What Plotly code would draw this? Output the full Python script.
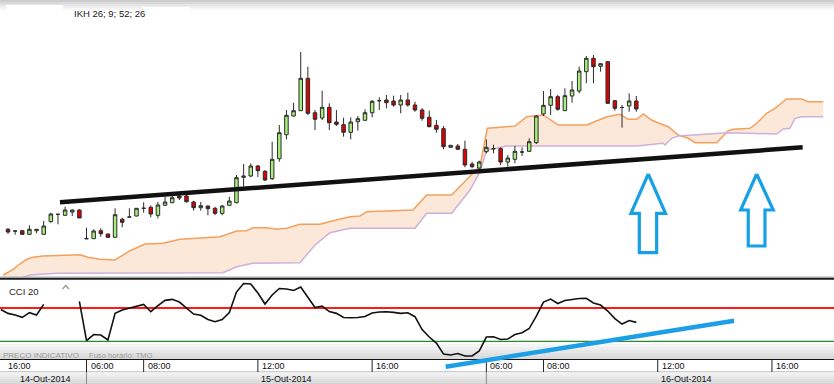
import plotly.graph_objects as go

W, H = 834, 384

# ---------------- data ----------------
candle_idx = list(range(89))
opens = [50.7, 49, 49.3, 45.7, 49.3, 45.7, 58.3, 65.7, 64.7, 68, 70,
         41.3, 41.3, 49.3, 46, 42.7, 60.7, 63, 64, 71.7, 72.7, 64.7,
         74.7, 77.3, 84, 84, 78, 72.3, 74, 71.7, 66.7, 74.7, 77.3,
         102.7, 104, 114, 108.7, 101.3, 121.3, 145.3, 164, 169.3, 201.7,
         167.3, 162, 172.7, 158, 155.3, 147.7, 158.3, 159.7, 167.3, 179.3,
         180, 179, 175, 180, 175, 170, 162.7, 154.7, 151.3, 132.7, 134,
         130.7, 116, 112, 128.3, 131.3, 131.3, 118, 120.7, 128, 128.7,
         137.3, 166, 174.7, 183.3, 169.3, 184, 189, 208.3, 221.7, 213.7,
         218.3, 179.3, 172.5, 174, 179]
highs = [52, 49.2, 50, 54.7, 51, 59, 67.3, 66, 73.3, 70.5, 70.7,
         52.3, 50.7, 51.7, 46.3, 71.7, 62.3, 71.7, 72, 77.7, 74.7, 78,
         83.3, 84, 86, 85, 79.3, 78, 74.5, 73.3, 75, 83.3, 105,
         116, 116.7, 115, 110, 138.3, 155, 170, 177.3, 228, 213.3,
         170, 189.3, 176.7, 170, 162.3, 162.7, 164, 170.7, 180, 182.7,
         185, 184.3, 185, 187.3, 178.3, 171.7, 169.3, 160, 154, 135, 136,
         139.3, 118.3, 119.3, 140.7, 135.3, 132.7, 125, 134, 132.7, 141.7,
         165, 189, 191, 185, 191.7, 199, 213.3, 224, 225, 216.7,
         219, 180, 175, 186.7, 184]
lows = [46, 45.3, 45.3, 45.3, 46.7, 45.5, 57.3, 55.7, 64.3, 64, 62,
        41, 41, 43.3, 42.5, 42.5, 52.7, 62.7, 63.7, 67.3, 62.7, 61.7,
        74.5, 77, 80, 77.3, 69.3, 69.3, 64.7, 65, 64.7, 74.5, 76.7,
        93.3, 102.7, 103, 99, 100, 118.3, 140.7, 163.3, 169, 165,
        150, 160, 150, 154, 143.3, 140.7, 149.3, 159.5, 162.7, 170,
        171.7, 173.3, 166.7, 173.3, 168.3, 159.3, 152.7, 147.3, 130.7, 132.5, 130,
        112.7, 111.7, 110.7, 126.7, 126.7, 115, 113.3, 116.7, 124, 128,
        136, 164, 165, 169.3, 169.3, 177.3, 186.7, 196.7, 196.7, 208.3,
        176, 169.3, 152.3, 168.3, 168.3]
closes = [48, 49, 45.7, 50.7, 50.7, 54, 66, 65.7, 70, 70, 62,
          41.3, 49, 46.3, 42.7, 65.3, 57.7, 63, 71.7, 71.7, 66, 75,
          78, 82.3, 82, 78.3, 72.3, 74.3, 71.3, 66.7, 74, 79, 102.3,
          104, 114, 109.3, 100, 120.7, 147.3, 164.7, 169.3, 201.7, 166.7,
          160.7, 172.7, 157.3, 155.7, 147.7, 158, 161.3, 167.3, 178.7, 179.3,
          177.3, 175, 180, 175, 170, 161.7, 153.3, 150.7, 133.3, 134.7, 130.7,
          115, 113.3, 118, 132.7, 131.3, 118, 122, 128.7, 128, 138.3,
          164, 174.7, 183.3, 170.7, 184.3, 190, 209, 221.7, 213.3, 216.3,
          176.7, 171.7, 172.5, 179, 171]

# Ichimoku cloud (senkou span A = orange, span B = lavender), shifted forward
span_a_x = [-0.66, 0.74, 1.44, 2.62, 3.5, 4.9, 10.08, 11.2, 12.89, 14.99, 17.09,
            19.19, 21.71, 24.09, 26.43, 29.69, 32.03, 33.43, 34.31, 36.23, 37.63,
            39.03, 40.9, 43.7, 45.52, 47.9, 49.3, 50.24, 56.72, 58.64, 62.14,
            64.71, 66.11, 67.13, 71.01, 72.65, 74.97, 77.07, 81.05, 83.85, 85.71,
            86.88, 88.05, 88.98, 90.15, 90.85, 92.48, 93.88, 95.28, 96.22, 99.26,
            100.88, 101.58, 103.92, 104.86, 106.26, 107.42, 109.06, 111.16, 112.09, 114.19]
span_a_y = [5, 10.7, 15, 20.7, 22.7, 24, 25.3, 22.7, 20.7, 20, 29.3,
            36, 36.7, 40.7, 41.7, 43.3, 49, 49.3, 52.3, 52.3, 50.7,
            51.7, 55.7, 55.7, 59.3, 63.3, 64, 68.3, 70, 85, 85,
            103.3, 114, 151.7, 154, 163.3, 165, 155, 155, 163.3, 165.7,
            160.7, 160.7, 166, 160, 157.7, 153.3, 145, 141.7, 137.3, 137.3,
            149.3, 150.7, 151.7, 156.7, 166.7, 171.7, 181, 181, 178.3, 178.3]
span_b_x = [-0.66, 2.38, 3.08, 6.82, 18.91, 30.11, 32.03, 34.31, 40.9, 43.0,
            45.1, 47.9, 57.0, 58.64, 62.14, 64.71, 66.11, 67.04, 68.45, 69.85,
            88.05, 91.74, 92.02, 92.96, 93.88, 99.02, 100.66, 107.66, 108.58,
            109.52, 110.22, 111.16, 114.19]
span_b_y = [-4, 2.7, 5, 6.7, 7.3, 7.3, 13.3, 16.7, 17.3, 35,
            47.3, 51.7, 51.7, 66.7, 66.7, 90, 108.3, 130, 131.7, 134,
            134, 136.7, 135, 141.7, 144, 146, 147.3, 146, 151,
            151.7, 161.7, 163.3, 163.3]

# CCI(20)
cci_idx = list(range(-1, 89))
cci_vals = [91, 68, 58, 44, 72, 58, 122, None, None, None, None, 140,
            -96, -59, -62, -92, 68, 88, 100, 109, 122, 78, 115, 146, 152,
            136, 100, 64, 57, 31, 18, 31, 73, 196, 247, 244, 190, 124, 178,
            217, 214, 205, 226, 166, 103, 112, 79, 68, 43, 42, 43, 49, 70,
            76, 78, 74, 68, 72, 48, -29, -74, -110, -176, -182, -173, -188,
            -188, -158, -74, -72, -89, -86, -59, -48, -23, 52, 136, 154, 127,
            145, 151, 157, 158, 130, 118, 82, 37, 4, 25, 14]
cci_levels = [100, -100]

# user drawings
trend_price_x = [7.28, 111.3]
trend_price_y = [77.7, 132.7]
trend_cci_x = [61.3, 101.7]
trend_cci_y = [-252, 24]
arrow1_x = [89.68, 92.09, 90.85, 90.85, 88.42, 88.42, 87.25, 89.68]
arrow1_y = [106, 66.7, 66.7, 27.3, 27.3, 66.7, 66.7, 106]
arrow2_x = [104.86, 107.18, 106.02, 106.02, 103.68, 103.68, 102.62, 104.86]
arrow2_y = [106, 70, 70, 34, 34, 70, 70, 106]

# time axis
tick_idx = [11, 19, 35, 51, 67, 75, 91, 107]
tick_text = ["06:00", "08:00", "12:00", "16:00", "06:00", "08:00", "12:00", "16:00"]
first_tick_text = "16:00"
day_bounds = [11, 67]
day_text = ["14-Out-2014", "15-Out-2014", "16-Out-2014"]
day_center_idx = [None, 39, 95]

assert len(cci_vals) == len(cci_idx)

# ---------------- figure ----------------
FONT = "Liberation Sans"
PRICE_RANGE = [2, 280]
fig = go.Figure()

# cloud on base price axis (drawn underneath)
fig.add_trace(go.Scatter(x=span_a_x, y=span_a_y, mode="lines", yaxis="y",
                         line=dict(color="#f4a05c", width=1.5), hoverinfo="skip"))
fig.add_trace(go.Scatter(x=span_b_x, y=span_b_y, mode="lines", fill="tonexty", yaxis="y",
                         fillcolor="rgba(251,226,206,0.8)",
                         line=dict(color="#cdb0dc", width=1.5), hoverinfo="skip"))

# candles + drawings on overlaying price axis (drawn on top of the cloud)
fig.add_trace(go.Candlestick(
    x=candle_idx, open=opens, high=highs, low=lows, close=closes, yaxis="y3",
    increasing=dict(fillcolor="#a8ee7c", line=dict(color="#2b2b2b", width=1)),
    decreasing=dict(fillcolor="#e00000", line=dict(color="#2b2b2b", width=1)),
    whiskerwidth=0, hoverinfo="skip"))

fig.add_trace(go.Scatter(x=trend_price_x, y=trend_price_y, mode="lines", yaxis="y3",
                         line=dict(color="#111111", width=4.5), hoverinfo="skip"))
for ax_, ay_ in ((arrow1_x, arrow1_y), (arrow2_x, arrow2_y)):
    fig.add_trace(go.Scatter(x=ax_, y=ay_, mode="lines", yaxis="y3",
                             line=dict(color="#16a0e6", width=3.2), hoverinfo="skip"))

# CCI panel
fig.add_trace(go.Scatter(x=cci_idx, y=cci_vals, mode="lines", yaxis="y2",
                         line=dict(color="#111111", width=1.6), connectgaps=False,
                         hoverinfo="skip"))
fig.add_trace(go.Scatter(x=trend_cci_x, y=trend_cci_y, mode="lines", yaxis="y2",
                         line=dict(color="#1c9fe6", width=4.5), hoverinfo="skip"))


def px_x(x):
    return x / W


def px_y(y):
    return 1 - y / H


def prect(x0, y0, x1, y1, color, layer="below"):
    return dict(type="rect", xref="paper", yref="paper",
                x0=px_x(x0), x1=px_x(x1), y0=px_y(y1), y1=px_y(y0),
                fillcolor=color, line=dict(width=0), layer=layer)


shapes = []
# top header gradient
for i, c in enumerate(["#cdcdcd", "#d9d9d9", "#e5e5e5", "#efefef", "#f7f7f7"]):
    shapes.append(prect(0, 2 * i, W, 2 * i + 2, c))
shapes.append(prect(6, 5, 63, 11, "#ffffff"))
shapes.append(prect(143, 7, 190, 12, "#ffffff"))
# main / cci separator
shapes.append(prect(0, 276.5, W, 278, "#a8a8a8", "above"))
shapes.append(prect(0, 278, W, 279.8, "#1c1c1c", "above"))
# cci bottom gradient
grad = ["#fbfbfb", "#f5f5f5", "#eeeeee", "#e7e7e7", "#e0e0e0", "#dadada"]
for i, c in enumerate(grad):
    shapes.append(prect(0, 341 + 3 * i, W, 344 + 3 * i, c))
# time axis rows
shapes.append(prect(0, 359, W, 360, "#111111"))
shapes.append(prect(0, 360, W, 371.5, "#ffffff"))
shapes.append(prect(0, 371.5, W, 372.3, "#9a9a9a"))
for i, c in enumerate(["#f1f1f1", "#ececec", "#e6e6e6", "#e0e0e0", "#dadada", "#d4d4d4"]):
    shapes.append(prect(0, 372.3 + 2 * i, W, 374.3 + 2 * i, c))
# cci level lines
shapes.append(dict(type="line", xref="paper", yref="y2", x0=0, x1=1,
                   y0=cci_levels[0], y1=cci_levels[0],
                   line=dict(color="#ff1a1a", width=2), layer="below"))
shapes.append(dict(type="line", xref="paper", yref="y2", x0=0, x1=1,
                   y0=cci_levels[1], y1=cci_levels[1],
                   line=dict(color="#2a8a2a", width=1.3), layer="below"))
# tick separators
for t in tick_idx:
    shapes.append(dict(type="line", xref="x", yref="paper", x0=t, x1=t,
                       y0=px_y(372), y1=px_y(360),
                       line=dict(color="#222222", width=1), layer="below"))
for t in day_bounds:
    shapes.append(dict(type="line", xref="x", yref="paper", x0=t, x1=t,
                       y0=px_y(384), y1=px_y(372),
                       line=dict(color="#888888", width=1), layer="below"))
# collapse chevron in CCI header
shapes.append(dict(type="path", xref="paper", yref="paper",
                   path="M %f %f L %f %f L %f %f" % (px_x(62.5), px_y(289), px_x(65.8), px_y(285.5),
                                                      px_x(69), px_y(289)),
                   line=dict(color="#9a9a9a", width=1.4), layer="above"))

ann = []
ann.append(dict(text="IKH 26; 9; 52; 26", xref="paper", yref="paper", x=px_x(72), y=px_y(13.5),
                xanchor="left", yanchor="middle", showarrow=False,
                font=dict(family=FONT, size=9.5, color="#1a1a1a")))
ann.append(dict(text="CCI 20", xref="paper", yref="paper", x=px_x(7), y=px_y(291),
                xanchor="left", yanchor="middle", showarrow=False,
                font=dict(family=FONT, size=9.5, color="#1a1a1a")))
ann.append(dict(text="PREÇO INDICATIVO", xref="paper", yref="paper", x=px_x(1), y=px_y(355),
                xanchor="left", yanchor="middle", showarrow=False,
                font=dict(family=FONT, size=8, color="#999999")))
ann.append(dict(text="Fuso horário: TMG", xref="paper", yref="paper", x=px_x(87), y=px_y(355),
                xanchor="left", yanchor="middle", showarrow=False,
                font=dict(family=FONT, size=7.6, color="#999999")))
ann.append(dict(text=first_tick_text, xref="paper", yref="paper", x=px_x(6), y=px_y(366.3),
                xanchor="left", yanchor="middle", showarrow=False,
                font=dict(family=FONT, size=9, color="#111111")))
for t, s in zip(tick_idx, tick_text):
    ann.append(dict(text=s, xref="x", yref="paper", x=t, xshift=2, y=px_y(366.3),
                    xanchor="left", yanchor="middle", showarrow=False,
                    font=dict(family=FONT, size=9, color="#111111")))
ann.append(dict(text=day_text[0], xref="paper", yref="paper", x=px_x(45), y=px_y(378.6),
                xanchor="center", yanchor="middle", showarrow=False,
                font=dict(family=FONT, size=9, color="#111111")))
for c, s in zip(day_center_idx[1:], day_text[1:]):
    ann.append(dict(text=s, xref="x", yref="paper", x=c, y=px_y(378.6),
                    xanchor="center", yanchor="middle", showarrow=False,
                    font=dict(family=FONT, size=9, color="#111111")))

fig.update_layout(
    width=W, height=H, margin=dict(l=0, r=0, t=0, b=0),
    paper_bgcolor="#ffffff", plot_bgcolor="rgba(0,0,0,0)",
    showlegend=False, hovermode=False,
    xaxis=dict(range=[-1.12, 115.69], visible=False, anchor="y2",
               rangeslider=dict(visible=False), fixedrange=True),
    yaxis=dict(domain=[px_y(278), 1], range=PRICE_RANGE, visible=False, fixedrange=True),
    yaxis3=dict(overlaying="y", range=PRICE_RANGE, visible=False, fixedrange=True),
    yaxis2=dict(domain=[px_y(370), px_y(280)], range=[-271.8, 268.2], visible=False,
                fixedrange=True, anchor="x"),
    shapes=shapes, annotations=ann,
)

fig.write_html("out.html", config=dict(displayModeBar=False),
               post_script="document.body.style.margin='0';document.body.style.overflow='hidden';")
